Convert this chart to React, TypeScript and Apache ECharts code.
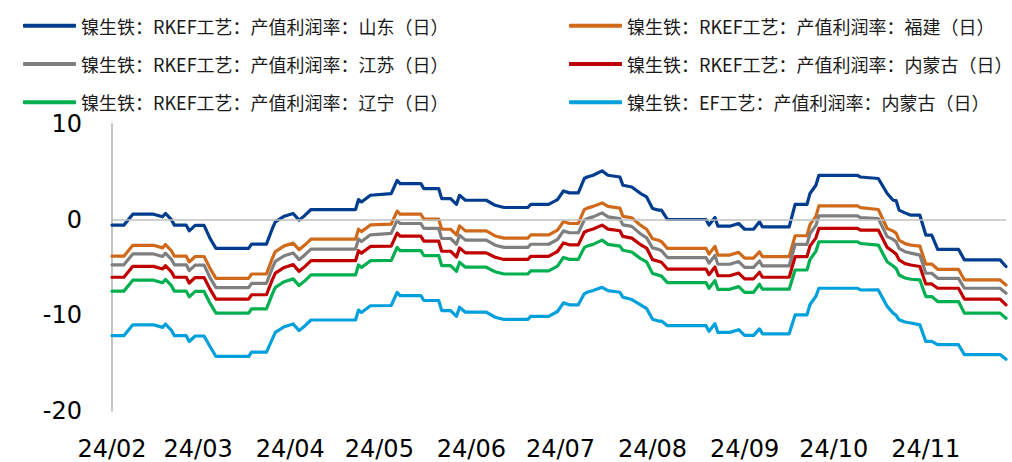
import React, { useEffect, useRef } from "react";
import * as echarts from "echarts";

const dates = [
  "2024-02-01","2024-02-05","2024-02-08","2024-02-15","2024-02-18","2024-02-19","2024-02-21","2024-02-22","2024-02-26","2024-02-27",
  "2024-02-29","2024-03-03","2024-03-05","2024-03-07","2024-03-18","2024-03-19","2024-03-24","2024-03-26","2024-03-27","2024-03-30",
  "2024-04-02","2024-04-04","2024-04-06","2024-04-08","2024-04-23","2024-04-24","2024-04-25","2024-04-28","2024-05-05","2024-05-07",
  "2024-05-08","2024-05-15","2024-05-16","2024-05-21","2024-05-22","2024-05-25","2024-05-27","2024-05-28","2024-05-30","2024-06-06",
  "2024-06-09","2024-06-12","2024-06-20","2024-06-21","2024-06-27","2024-06-30","2024-07-02","2024-07-04","2024-07-07","2024-07-09",
  "2024-07-10","2024-07-12","2024-07-15","2024-07-17","2024-07-21","2024-07-22","2024-07-25","2024-07-28","2024-07-30","2024-08-01",
  "2024-08-03","2024-08-04","2024-08-06","2024-08-19","2024-08-20","2024-08-22","2024-08-23","2024-08-27","2024-08-30","2024-09-01",
  "2024-09-04","2024-09-06","2024-09-07","2024-09-16","2024-09-18","2024-09-22","2024-09-23","2024-09-25","2024-09-26","2024-10-09",
  "2024-10-10","2024-10-16","2024-10-19","2024-10-21","2024-10-22","2024-10-23","2024-10-25","2024-10-27","2024-10-30","2024-11-01",
  "2024-11-03","2024-11-05","2024-11-12","2024-11-14","2024-11-26","2024-11-28",
];

const shandong = [
  -0.57,-0.57,0.57,0.57,0.30,0.65,0.00,-0.57,-0.57,-1.17,
  -0.60,-0.60,-1.96,-3.00,-3.00,-2.55,-2.55,-0.92,-0.23,0.36,
  0.65,-0.05,0.47,1.06,1.06,2.10,1.85,2.55,2.73,4.10,
  3.77,3.77,3.25,3.25,2.20,2.20,1.60,2.55,2.03,2.03,
  1.50,1.27,1.27,1.60,1.60,2.10,3.00,2.80,2.80,4.30,
  4.46,4.64,5.10,4.64,4.46,3.60,3.42,2.73,2.38,1.17,
  1.00,1.00,0.02,0.02,-0.57,0.23,-0.68,-0.68,-0.40,-1.00,
  -1.00,-0.23,-0.75,-0.75,1.60,1.60,2.73,3.60,4.64,4.64,
  4.46,4.30,2.73,2.03,2.00,1.00,0.71,0.47,0.47,-1.61,
  -1.61,-3.10,-3.10,-4.20,-4.20,-4.90,
];

const fujian = [
  -3.82,-3.82,-2.68,-2.68,-2.95,-2.60,-3.25,-3.82,-3.82,-4.42,-3.85,-3.85,
  -5.09,-6.13,-6.13,-5.68,-5.68,
  -4.02,-3.33,-2.74,-2.45,-3.15,-2.63,-2.04,-2.04,-1.00,-1.25,-0.55,
  -0.47,0.90,0.57,0.57,0.05,0.05,-1.00,-1.00,-1.60,-0.65,-1.17,-1.17,
  -1.70,-1.93,-1.93,-1.60,-1.60,-1.10,-0.20,-0.40,-0.40,
  1.05,1.21,1.39,1.75,1.39,1.21,
  0.35,0.20,-0.60,-1.00,-2.00,-2.15,-2.30,
  -3.00,-3.00,-3.59,-2.79,-3.70,-3.70,-3.42,-4.02,-4.02,-3.35,-3.87,-3.87,
  -1.68,-1.68,-0.52,0.35,1.44,1.44,1.26,1.06,
  -0.92,-1.20,-1.40,-2.14,-2.50,-2.66,-2.76,
  -4.64,-4.64,-5.19,-5.19,-6.30,-6.30,-6.82,
];

const jiangsu = [
  -4.72,-4.72,-3.58,-3.58,-3.85,-3.50,-4.15,-4.72,-4.72,-5.32,-4.75,-4.75,
  -6.06,-7.10,-7.10,-6.65,-6.65,
  -5.05,-4.36,-3.77,-3.48,-4.18,-3.66,-3.07,-3.07,-2.03,-2.28,-1.58,
  -1.44,-0.07,-0.40,-0.40,-0.92,-0.92,-1.97,-1.97,-2.57,-1.62,-2.14,-2.14,
  -2.67,-2.90,-2.90,-2.57,-2.57,-2.07,-1.17,-1.37,-1.37,
  -0.05,0.11,0.29,0.71,0.29,0.11,
  -0.55,-0.70,-1.50,-1.90,-2.95,-3.10,-3.25,
  -3.96,-3.96,-4.55,-3.75,-4.66,-4.66,-4.38,-4.98,-4.98,-4.32,-4.84,-4.84,
  -2.59,-2.59,-1.47,-0.60,0.40,0.40,0.22,0.12,
  -1.77,-2.06,-2.30,-3.00,-3.35,-3.50,-3.70,
  -5.60,-5.60,-6.13,-6.13,-7.17,-7.17,-7.69,
];

const neimengguRkef = [
  -6.02,-6.02,-4.88,-4.88,-5.15,-4.80,-5.45,-6.02,-6.02,-6.62,-6.05,-6.05,
  -7.26,-8.30,-8.30,-7.85,-7.85,
  -6.27,-5.58,-4.99,-4.70,-5.40,-4.88,-4.29,-4.29,-3.25,-3.50,-2.80,
  -2.77,-1.40,-1.73,-1.73,-2.25,-2.25,-3.30,-3.30,-3.90,-2.95,-3.47,-3.47,
  -3.93,-4.16,-4.16,-3.83,-3.83,-3.33,-2.43,-2.63,-2.63,
  -1.32,-1.16,-0.98,-0.57,-0.98,-1.16,
  -1.75,-1.93,-2.62,-2.97,-4.18,-4.35,-4.45,
  -5.16,-5.16,-5.75,-4.95,-5.86,-5.86,-5.58,-6.18,-6.18,-5.50,-6.02,-6.02,
  -3.87,-3.87,-2.77,-1.90,-0.92,-0.92,-1.10,-1.09,
  -2.90,-3.35,-3.60,-4.20,-4.60,-4.74,-4.90,
  -6.72,-6.72,-7.17,-7.17,-8.30,-8.30,-8.90,
];

const liaoning = [
  -7.47,-7.47,-6.33,-6.33,-6.60,-6.25,-6.90,-7.47,-7.47,-8.07,-7.50,-7.50,
  -8.73,-9.77,-9.77,-9.32,-9.32,
  -7.76,-7.07,-6.48,-6.19,-6.89,-6.37,-5.78,-5.78,-4.74,-4.99,-4.29,
  -4.27,-2.90,-3.23,-3.23,-3.75,-3.75,-4.80,-4.80,-5.40,-4.45,-4.97,-4.97,
  -5.45,-5.68,-5.68,-5.35,-5.35,-4.85,-3.95,-4.15,-4.15,
  -2.92,-2.76,-2.58,-2.14,-2.58,-2.76,
  -3.20,-3.38,-4.07,-4.42,-5.63,-5.80,-5.90,
  -6.58,-6.58,-7.17,-6.37,-7.28,-7.28,-7.00,-7.60,-7.60,-6.75,-7.27,-7.27,
  -5.26,-5.26,-4.17,-3.30,-2.31,-2.31,-2.49,-2.66,
  -4.40,-4.84,-5.10,-5.78,-6.10,-6.23,-6.30,
  -8.04,-8.04,-8.56,-8.56,-9.77,-9.77,-10.30,
];

const neimengguEf = [
  -12.13,-12.13,-10.99,-10.99,-11.26,-10.91,-11.56,-12.13,-12.13,-12.73,-12.16,-12.16,
  -13.26,-14.30,-14.30,-13.85,-13.85,
  -12.47,-11.78,-11.19,-10.90,-11.60,-11.08,-10.49,-10.49,-9.45,-9.70,-9.00,
  -8.97,-7.60,-7.93,-7.93,-8.45,-8.45,-9.50,-9.50,-10.10,-9.15,-9.67,-9.67,
  -10.20,-10.43,-10.43,-10.10,-10.10,-9.60,-8.70,-8.90,-8.90,
  -7.75,-7.59,-7.41,-7.07,-7.41,-7.59,
  -8.10,-8.35,-8.90,-9.30,-10.40,-10.60,-10.60,
  -11.08,-11.08,-11.67,-10.87,-11.78,-11.78,-11.50,-12.10,-12.10,-11.41,-11.93,-11.93,
  -9.95,-9.95,-8.87,-8.00,-7.17,-7.17,-7.35,-7.34,
  -9.07,-9.77,-10.00,-10.47,-10.70,-10.80,-11.00,
  -12.73,-12.73,-13.07,-13.07,-14.10,-14.10,-14.60,
];

const seriesNames = [
  "镍生铁：RKEF工艺：产值利润率：山东（日）",
  "镍生铁：RKEF工艺：产值利润率：福建（日）",
  "镍生铁：RKEF工艺：产值利润率：江苏（日）",
  "镍生铁：RKEF工艺：产值利润率：内蒙古（日）",
  "镍生铁：RKEF工艺：产值利润率：辽宁（日）",
  "镍生铁：EF工艺：产值利润率：内蒙古（日）",
];
const seriesValues = [shandong, fujian, jiangsu, neimengguRkef, liaoning, neimengguEf];
const seriesColors = ["#003D8F", "#D0691A", "#7F7F7F", "#C00000", "#00B050", "#00A0DC"];

const yTicks = { min: -20, max: 10, interval: 10 };
const xRange = { min: "2024-02-01", max: "2024-11-28" };

const CJK = '"Noto Sans CJK SC", "Noto Sans", sans-serif';
const NUM = '"DejaVu Sans", "Noto Sans", sans-serif';

export default function App() {
  const ref = useRef<HTMLDivElement>(null);
  useEffect(() => {
    if (!ref.current) return;
    const chart = echarts.init(ref.current, undefined, { renderer: "svg" });
    const legendCommon = {
      orient: "vertical",
      itemWidth: 53,
      itemHeight: 4,
      itemGap: 18.3,
      icon: "roundRect",
      textStyle: { fontSize: 18, color: "#1a1a1a", fontFamily: CJK, lineHeight: 20 },
      selectedMode: false,
    };
    const series = seriesNames.map((name, i) => ({
      name,
      type: "line",
      data: dates.map((d, j) => [d, seriesValues[i][j]]),
      symbol: "none",
      z: i === 5 ? 2 : 3,
      lineStyle: { width: 3.2, color: seriesColors[i], cap: "round", join: "round" },
      itemStyle: { color: seriesColors[i] },
      ...(i === 5
        ? {
            markLine: {
              silent: true,
              symbol: "none",
              label: { show: false },
              lineStyle: { color: "#BFBFBF", width: 1.5, type: "solid" },
              data: [{ yAxis: 0 }],
            },
          }
        : {}),
    }));
    chart.setOption({
      animation: false,
      grid: { left: 112, right: 6, top: 124, bottom: 51, containLabel: false },
      legend: [
        { ...legendCommon, left: 18, top: 10.7, data: [seriesNames[0], seriesNames[2], seriesNames[4]] },
        { ...legendCommon, left: 564, top: 10.7, data: [seriesNames[1], seriesNames[3], seriesNames[5]] },
      ],
      xAxis: {
        type: "time",
        min: xRange.min,
        max: xRange.max,
        splitNumber: 10,
        minInterval: 28 * 86400000,
        maxInterval: 31 * 86400000,
        axisLine: { show: false },
        axisTick: { show: false },
        splitLine: { show: false },
        axisLabel: {
          margin: 26,
          fontSize: 24,
          lineHeight: 24,
          color: "#000",
          fontFamily: NUM,
          showMinLabel: true,
          showMaxLabel: false,
          formatter: (val: number) => {
            const d = new Date(val);
            return "24/" + String(d.getMonth() + 1).padStart(2, "0");
          },
        },
      },
      yAxis: {
        type: "value",
        min: yTicks.min,
        max: yTicks.max,
        interval: yTicks.interval,
        axisLine: { show: true, lineStyle: { color: "#B0B0B0", width: 1.5 } },
        axisTick: { show: false },
        splitLine: { show: false },
        axisLabel: { margin: 30, fontSize: 24, color: "#000", fontFamily: NUM },
      },
      series,
    });
    return () => chart.dispose();
  }, []);
  return (
    <div
      ref={ref}
      style={{ position: "fixed", left: 0, top: 0, width: 1012, height: 462, background: "#fff" }}
    />
  );
}
